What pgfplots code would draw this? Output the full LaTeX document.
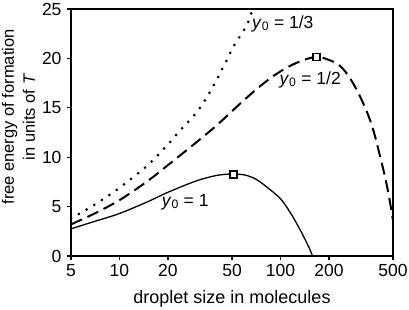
\documentclass[border=0pt]{standalone}
\usepackage{pgfplots}
\pgfplotsset{compat=1.18}
\usepackage{fontspec}
\setmainfont{Liberation Sans}
\begin{document}
\begin{tikzpicture}
\begin{axis}[
  name=ax,
  scale only axis, width=322pt, height=247pt,
  xmode=log, xmin=5, xmax=500, ymin=0, ymax=25,
  xtick={5,10,20,50,100,200,500}, xticklabels={5,10,20,50,100,200,500},
  ytick={0,5,10,15,20,25}, yticklabels={0,5,10,15,20,25},
  xminorticks=false, yminorticks=false,
  axis x line*=bottom, axis y line*=left,
  axis line style={line width=2.6pt, -},
  tick align=outside, major tick length=4pt,
  tick style={line width=1.2pt, black},
  ticklabel style={font=\fontsize{17.5}{20}\selectfont},
  xticklabel style={yshift=-1pt},
  yticklabel style={xshift=-2pt},
  xlabel={droplet size in molecules},
  xlabel style={font=\fontsize{18}{21}\selectfont, at={(axis description cs:0.5,0)}, anchor=base, yshift=-47pt},
  ylabel={free energy of formation\\in units of \textit{T}},
  ylabel style={font=\fontsize{16.5}{21}\selectfont, align=center, at={(axis description cs:-0.163,0.563)}, anchor=center},
  clip=false,
]
\addplot[black, line width=1.3pt, smooth] coordinates {
(5,2.75)(7,3.5)(10,4.3)(15,5.5)(20,6.45)(30,7.6)(40,8.15)(50,8.3)(60,8.2)(70,7.8)(82,7.0)(100,5.8)(115,4.4)(130,2.9)(145,1.4)(152,0.7)(158,0)
};
\addplot[black, line width=2pt, dash pattern=on 12pt off 6pt, smooth] coordinates {
(5,3.2)(7,4.3)(10,5.65)(15,7.6)(20,9.2)(30,11.5)(40,13.2)(56,15.4)(70,16.8)(90,18.2)(120,19.4)(167,20.15)(223,19.5)(260,18.4)(298,16.8)(340,14.8)(378,12.7)(436,8.7)(470,6.2)(500,3.6)
};
\addplot[black, line width=3pt, line cap=round, dash pattern=on 0pt off 9pt, smooth] coordinates {
(5,3.8)(7,5.2)(10,6.9)(15,9.2)(20,11.3)(23.5,12.6)(30,14.5)(36.5,16.6)(45,19.4)(51,21.2)(62,23.4)(67,25)
};
\addplot[only marks, mark=square*, mark size=3.5pt, mark options={fill=white, draw=black, line width=1.6pt, solid}] coordinates {(50.9,8.27)(167,20.14)};
\node[anchor=base west, inner sep=0pt, font=\fontsize{17.5}{20}\selectfont] at (axis cs:66.6,23.05) {\textit{y}\textsubscript{0} = 1/3};
\node[anchor=base west, inner sep=0pt, font=\fontsize{17.5}{20}\selectfont] at (axis cs:98.4,17.37) {\textit{y}\textsubscript{0} = 1/2};
\node[anchor=base west, inner sep=0pt, font=\fontsize{17.5}{20}\selectfont] at (axis cs:18.3,5.06) {\textit{y}\textsubscript{0} = 1};
\end{axis}
\draw[line width=1.6pt] (ax.north west) -- (ax.north east) -- (ax.south east);
\pgfresetboundingbox
\path (ax.south west) ++(-71pt,-53pt) rectangle ++(409pt,309pt);
\end{tikzpicture}
\end{document}
